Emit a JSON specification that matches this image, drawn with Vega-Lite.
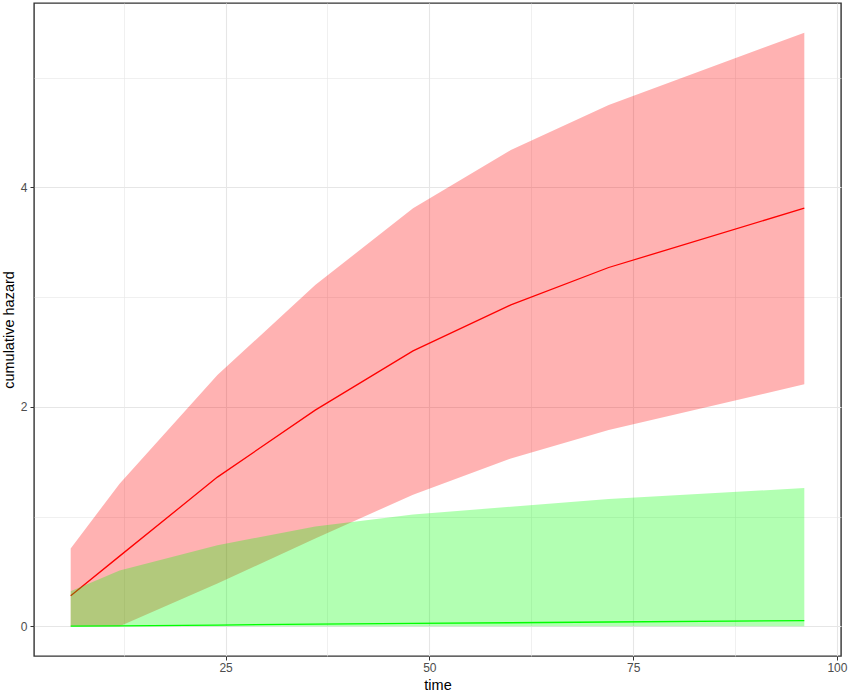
{
  "$schema": "https://vega.github.io/schema/vega-lite/v6.json",
  "width": 807,
  "height": 653,
  "autosize": {"type": "none"},
  "padding": {"left": 34, "top": 3, "right": 9, "bottom": 36},
  "background": "white",
  "config": {
    "view": {"stroke": "#333333", "strokeWidth": 1.4},
    "font": "Liberation Sans",
    "axis": {
      "domain": false,
      "gridColor": "#e6e6e6",
      "tickColor": "#333333",
      "tickSize": 4,
      "labelColor": "#4d4d4d",
      "labelFontSize": 12,
      "titleFontSize": 14.5,
      "titleFontWeight": "normal",
      "titleColor": "#000000"
    }
  },
  "data": {
    "values": [
      {"group": "A", "time": 6, "est": 0.28, "lo": 0.0, "hi": 0.71},
      {"group": "A", "time": 12, "est": 0.64, "lo": 0.0, "hi": 1.3},
      {"group": "A", "time": 24, "est": 1.36, "lo": 0.39, "hi": 2.29},
      {"group": "A", "time": 36, "est": 1.97, "lo": 0.8, "hi": 3.11},
      {"group": "A", "time": 48, "est": 2.51, "lo": 1.2, "hi": 3.81},
      {"group": "A", "time": 60, "est": 2.93, "lo": 1.53, "hi": 4.34},
      {"group": "A", "time": 72, "est": 3.27, "lo": 1.79, "hi": 4.75},
      {"group": "A", "time": 96, "est": 3.81, "lo": 2.205, "hi": 5.41},
      {"group": "B", "time": 6, "est": 0.002, "lo": 0.0, "hi": 0.32},
      {"group": "B", "time": 12, "est": 0.005, "lo": 0.0, "hi": 0.51},
      {"group": "B", "time": 24, "est": 0.012, "lo": 0.0, "hi": 0.74},
      {"group": "B", "time": 36, "est": 0.02, "lo": 0.0, "hi": 0.91},
      {"group": "B", "time": 48, "est": 0.027, "lo": 0.0, "hi": 1.02},
      {"group": "B", "time": 60, "est": 0.033, "lo": 0.0, "hi": 1.09},
      {"group": "B", "time": 72, "est": 0.04, "lo": 0.0, "hi": 1.16},
      {"group": "B", "time": 96, "est": 0.053, "lo": 0.0, "hi": 1.26}
    ]
  },
  "encoding": {
    "x": {
      "field": "time",
      "type": "quantitative",
      "scale": {"domain": [1.5, 100.5], "nice": false, "zero": false},
      "axis": {
        "title": "time",
        "values": [12.5, 25, 37.5, 50, 62.5, 75, 87.5, 100],
        "labelExpr": "datum.value % 25 == 0 ? format(datum.value, 'd') : ''",
        "tickOpacity": {"condition": {"test": "datum.value % 25 != 0", "value": 0}, "value": 1},
        "gridWidth": {"condition": {"test": "datum.value % 25 != 0", "value": 0.6}, "value": 1.1},
        "labelPadding": 2,
        "titlePadding": 5
      }
    }
  },
  "layer": [
    {
      "transform": [{"filter": "datum.group == 'A'"}],
      "mark": {"type": "area", "color": "#ff0000", "opacity": 0.3},
      "encoding": {
        "y": {
          "field": "lo",
          "type": "quantitative",
          "scale": {"domain": [-0.27, 5.68], "nice": false, "zero": false},
          "axis": {
            "title": "cumulative hazard",
            "values": [0, 1, 2, 3, 4, 5],
            "labelExpr": "datum.value % 2 == 0 ? format(datum.value, 'd') : ''",
            "tickOpacity": {"condition": {"test": "datum.value % 2 != 0", "value": 0}, "value": 1},
            "gridWidth": {"condition": {"test": "datum.value % 2 != 0", "value": 0.6}, "value": 1.1},
            "labelPadding": 3,
            "titlePadding": 4
          }
        },
        "y2": {"field": "hi"}
      }
    },
    {
      "transform": [{"filter": "datum.group == 'A'"}],
      "mark": {"type": "line", "color": "#ff0000", "strokeWidth": 1.3},
      "encoding": {"y": {"field": "est", "type": "quantitative"}}
    },
    {
      "transform": [{"filter": "datum.group == 'B'"}],
      "mark": {"type": "area", "color": "#00ff00", "opacity": 0.3},
      "encoding": {
        "y": {"field": "lo", "type": "quantitative"},
        "y2": {"field": "hi"}
      }
    },
    {
      "transform": [{"filter": "datum.group == 'B'"}],
      "mark": {"type": "line", "color": "#00ff00", "strokeWidth": 1.3},
      "encoding": {"y": {"field": "est", "type": "quantitative"}}
    }
  ]
}
